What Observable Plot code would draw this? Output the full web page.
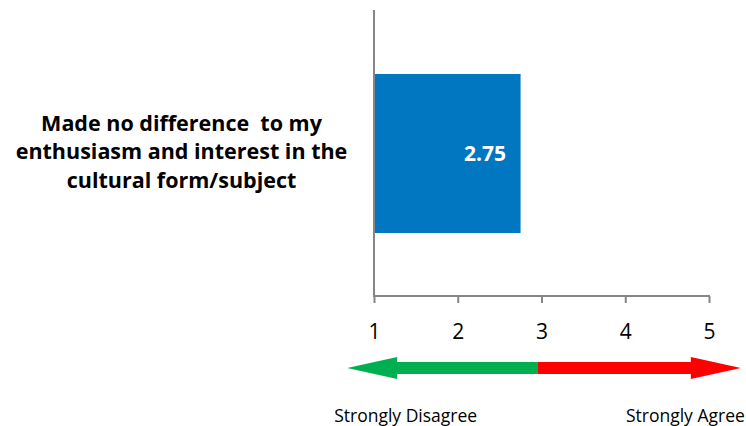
<!DOCTYPE html>
<html>
<head>
<meta charset="utf-8">
<script src="https://cdn.jsdelivr.net/npm/d3@7"></script>
<script src="https://cdn.jsdelivr.net/npm/@observablehq/plot@0.6"></script>
<style>
  html, body { margin: 0; padding: 0; background: #fff; }
  svg { display: block; }
</style>
</head>
<body>
<div id="chart"></div>
<script>
const categories = ["Made no difference to my enthusiasm and interest in the cultural form/subject"];
const categoryLines = ["Made no difference  to my", "enthusiasm and interest in the", "cultural form/subject"];
const values = [2.75];
const ticks = [1, 2, 3, 4, 5];
const scaleEnds = [0.68, 5.38];   // arrow ends, in scale units
const midpoint = 2.95;             // where green turns red
const scaleLabels = ["Strongly Disagree", "Strongly Agree"];

const data = categories.map((c, i) => ({category: c, value: values[i]}));

const W = 746, H = 426;
const mL = 374, mR = 37, mT = 10, mB = 130;
const font = "'Open Sans', Lato, sans-serif";

function decorations(index, scales, vals, dims) {
  const x = scales.x;
  const g = d3.create("svg:g");
  const y0 = dims.height - dims.marginBottom;
  // axis lines
  g.append("line").attr("x1", x(ticks[0])).attr("x2", x(ticks[0])).attr("y1", dims.marginTop).attr("y2", y0)
    .attr("stroke", "#868686").attr("stroke-width", 2);
  g.append("line").attr("x1", x(ticks[0]) - 1).attr("x2", x(ticks[ticks.length - 1]) + 1).attr("y1", y0).attr("y2", y0)
    .attr("stroke", "#868686").attr("stroke-width", 2);
  // arrow
  const ay = y0 + 72, sh = 6, hh = 11;
  const xl = x(scaleEnds[0]), xr = x(scaleEnds[1]), xm = x(midpoint);
  const headLen = 50;
  g.append("path").attr("fill", "#00B050").attr("d",
    `M${xl},${ay} L${xl + headLen},${ay - hh} L${xl + headLen},${ay - sh} L${xm},${ay - sh} L${xm},${ay + sh} L${xl + headLen},${ay + sh} L${xl + headLen},${ay + hh} Z`);
  g.append("path").attr("fill", "#FF0000").attr("d",
    `M${xr},${ay} L${xr - headLen},${ay - hh} L${xr - headLen},${ay - sh} L${xm},${ay - sh} L${xm},${ay + sh} L${xr - headLen},${ay + sh} L${xr - headLen},${ay + hh} Z`);
  // scale labels
  g.append("text").attr("x", xl - 13).attr("y", y0 + 126).attr("text-anchor", "start")
    .attr("font-family", font).attr("font-size", 17.5).attr("fill", "#000").text(scaleLabels[0]);
  g.append("text").attr("x", xr + 4).attr("y", y0 + 126).attr("text-anchor", "end")
    .attr("font-family", font).attr("font-size", 17.5).attr("fill", "#000").text(scaleLabels[1]);
  return g.node();
}

const chart = Plot.plot({
  width: W,
  height: H,
  marginLeft: mL,
  marginRight: mR,
  marginTop: mT,
  marginBottom: mB,
  style: {fontFamily: font, background: "#fff", overflow: "visible"},
  x: {domain: [1, 5], ticks: ticks, tickFormat: d => String(d), label: null},
  y: {domain: categories, padding: 0.285, axis: null},
  marks: [
    Plot.barX(data, {x1: 1, x2: "value", y: "category", fill: "#0077C0"}),
    Plot.text(data, {x: "value", y: "category", text: d => d.value.toFixed(2), textAnchor: "end", dx: -15,
      fill: "#fff", fontWeight: "bold", fontSize: 21}),
    Plot.text(data, {y: "category", frameAnchor: "left", dx: -193, dy: -4, textAnchor: "middle",
      text: () => categoryLines.join("\n"), lineHeight: 1.33, fontWeight: "bold", fontSize: 21.5, fill: "#000"}),
    Plot.axisX({ticks: ticks, tickSize: 7, tickPadding: 21, fontSize: 21, stroke: "#868686", strokeWidth: 2, color: "#000", tickFormat: d => String(d), label: null}),
    decorations
  ]
});

document.getElementById("chart").appendChild(chart);
</script>
</body>
</html>
